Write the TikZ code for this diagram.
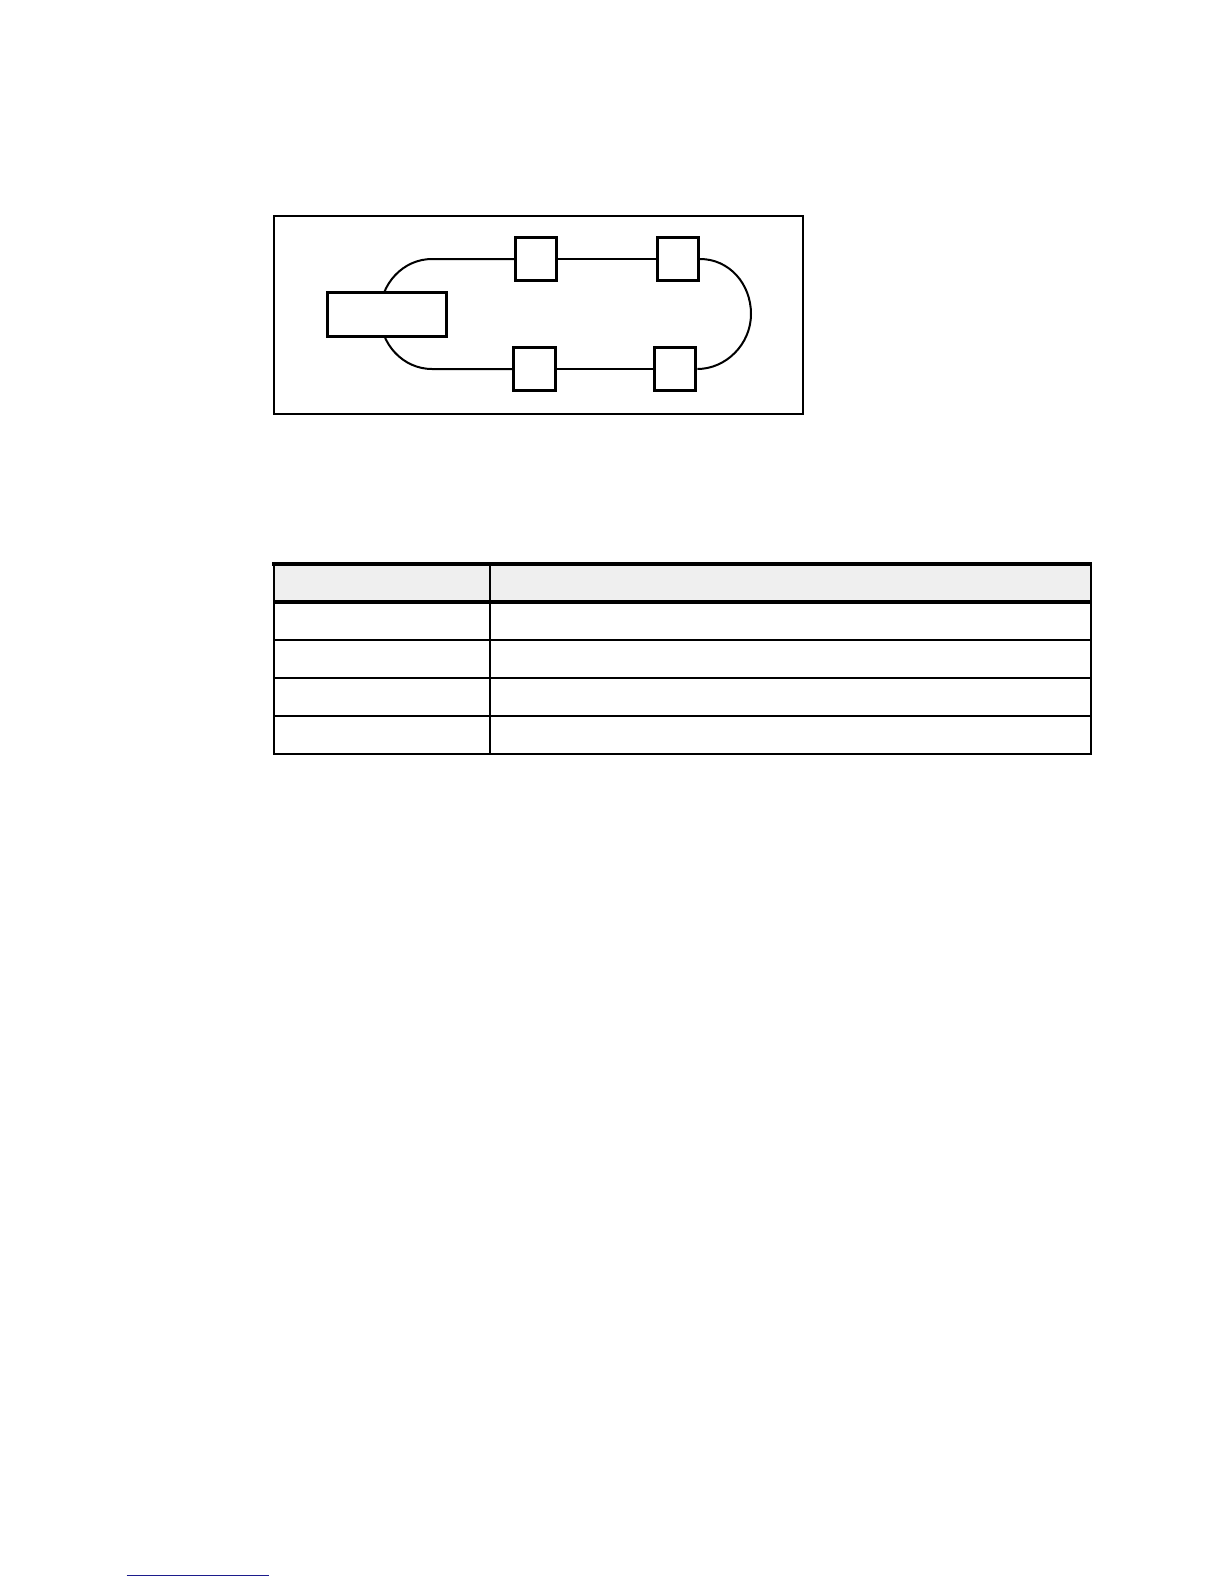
\documentclass[tikz,border=0pt]{standalone}
\usepackage{xcolor}
\definecolor{headgray}{HTML}{EFEFEF}
\definecolor{linkblue}{HTML}{1C1C8C}
\begin{document}
\begin{tikzpicture}[x=0.5bp,y=-0.5bp,
  box/.style={draw,fill=white,line width=1.5bp,inner sep=0pt,minimum width=20.6bp,minimum height=21.9bp},
  ctrlbox/.style={draw,fill=white,line width=1.4bp,inner sep=0pt,minimum width=59.8bp,minimum height=22bp},
  wire/.style={line width=1bp},
  frame/.style={line width=0.65bp},
  thickrule/.style={line width=2.15bp},
  midrule/.style={line width=1.85bp},
  rowrule/.style={line width=1bp},
  colrule/.style={line width=1bp}]
\useasboundingbox (0,0) rectangle (1224,1584);
% outer frame
\draw[frame] (274,216) rectangle (803,414);
% nodes
\node[box] (b1) at (536.2,259) {};
\node[box] (b2) at (678.0,259) {};
\node[box] (b3) at (534.4,369) {};
\node[box] (b4) at (675.3,369) {};
\coordinate (tl) at (432,259);
\coordinate (bl) at (432,369);
\coordinate (rr) at (751,314);
% connectors
\draw[wire] (b1.west) -- (tl) .. controls (403.3,259) and (380,283.6) .. (380,314)
  .. controls (380,344.4) and (403.3,369) .. (bl) -- (b3.west);
\draw[wire] (b1.east) -- (b2.west);
\draw[wire] (b3.east) -- (b4.west);
\draw[wire] (b2.east) .. controls (729,259) and (751,283.6) .. (rr)
  .. controls (751,344.4) and (725.7,369) .. (b4.east);
% redraw boxes on top
\node[box] at (b1) {};
\node[box] at (b2) {};
\node[box] at (b3) {};
\node[box] at (b4) {};
\node[ctrlbox] (ctrl) at (387,314.2) {};
% table
\fill[headgray] (274,565) rectangle (1091,601);
\draw[thickrule] (272,563.8) -- (1092,563.8);
\draw[midrule] (274,602.2) -- (1091,602.2);
\draw[rowrule] (274,640) -- (1091,640);
\draw[rowrule] (274,678) -- (1091,678);
\draw[rowrule] (274,716) -- (1091,716);
\draw[rowrule] (273,753.8) -- (1092,753.8);
\draw[colrule] (274,562) -- (274,754.8);
\draw[colrule] (489.7,562) -- (489.7,754.8);
\draw[colrule] (1091,562) -- (1091,754.8);
% footnote rule
\draw[linkblue,line width=0.6bp] (126.7,1575.2) -- (269,1575.2);
\end{tikzpicture}
\end{document}
